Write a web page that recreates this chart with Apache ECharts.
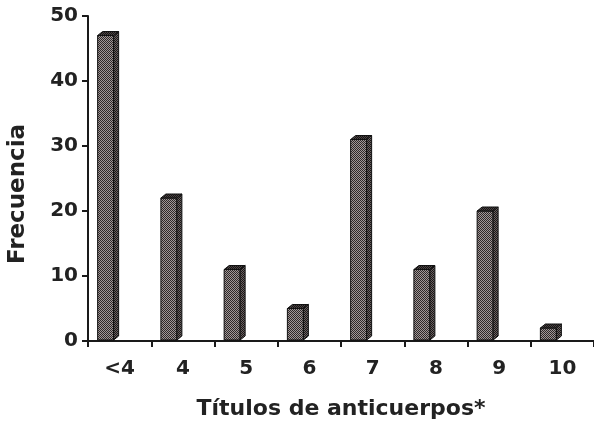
<!DOCTYPE html>
<html>
<head>
<meta charset="utf-8">
<script src="https://cdn.jsdelivr.net/npm/echarts@6/dist/echarts.min.js"></script>
<style>
html,body{margin:0;padding:0;background:#fff;}
#chart{width:594px;height:427px;}
</style>
</head>
<body>
<div id="chart"></div>
<script>
const categories = ['<4', '4', '5', '6', '7', '8', '9', '10'];
const frecuencia = [47, 22, 11, 5, 31, 11, 20, 2];
const yTicks = [0, 10, 20, 30, 40, 50];

function makePattern(dark, light) {
  const c = document.createElement('canvas');
  c.width = 2; c.height = 2;
  const g = c.getContext('2d');
  g.fillStyle = light; g.fillRect(0, 0, 2, 2);
  g.fillStyle = dark; g.fillRect(0, 0, 1, 1); g.fillRect(1, 1, 1, 1);
  return c;
}
const frontPat = { image: makePattern('#2e2828', '#a09898'), repeat: 'repeat' };
const sidePat = { image: makePattern('#1a1616', '#6a6262'), repeat: 'repeat' };
const topPat = { image: makePattern('#161212', '#4a4444'), repeat: 'repeat' };

const chart = echarts.init(document.getElementById('chart'), null, { renderer: 'canvas' });
const FONT = '"DejaVu Sans", sans-serif';

chart.setOption({
  backgroundColor: '#ffffff',
  animation: false,
  grid: { left: 88, right: 0, top: 16, bottom: 86, containLabel: false },
  xAxis: {
    type: 'category',
    data: categories,
    boundaryGap: true,
    name: 'Títulos de anticuerpos*',
    nameLocation: 'middle',
    nameGap: 57,
    nameTextStyle: { fontFamily: FONT, fontWeight: 'bold', fontSize: 22, color: '#222' },
    axisLine: { show: true, lineStyle: { color: '#1a1a1a', width: 2 } },
    axisTick: { show: true, length: 6, alignWithLabel: false, lineStyle: { color: '#1a1a1a', width: 2 } },
    axisLabel: { fontFamily: FONT, fontWeight: 'bold', fontSize: 20, color: '#222', margin: 18 },
    splitLine: { show: false }
  },
  yAxis: {
    type: 'value',
    min: yTicks[0],
    max: yTicks[yTicks.length - 1],
    interval: 10,
    axisLine: { show: true, lineStyle: { color: '#1a1a1a', width: 2 } },
    axisTick: { show: true, length: 6, lineStyle: { color: '#1a1a1a', width: 2 } },
    axisLabel: { fontFamily: FONT, fontWeight: 'bold', fontSize: 20, color: '#222', margin: 10 },
    splitLine: { show: false }
  },
  graphic: [{
    type: 'text',
    x: 18, y: 194,
    rotation: Math.PI / 2,
    style: {
      text: 'Frecuencia',
      fontFamily: FONT, fontWeight: 'bold', fontSize: 23, fill: '#222',
      align: 'center', verticalAlign: 'middle'
    }
  }],
  series: [{
    type: 'custom',
    data: frecuencia.map((v, i) => [i, v]),
    encode: { x: 0, y: 1 },
    renderItem: function (params, api) {
      const base = api.coord([api.value(0), 0]);
      const top = api.coord([api.value(0), api.value(1)]);
      const left = base[0] - 22;
      const w = 16, dx = 5, dy = 4;
      const yb = base[1] - 1, yt = top[1];
      const stroke = { stroke: '#111', lineWidth: 1 };
      return {
        type: 'group',
        children: [
          { type: 'rect', shape: { x: left, y: yt, width: w, height: yb - yt },
            style: Object.assign({ fill: frontPat }, stroke) },
          { type: 'polygon', shape: { points: [[left + w, yt], [left + w + dx, yt - dy], [left + w + dx, yb - dy], [left + w, yb]] },
            style: Object.assign({ fill: sidePat }, stroke) },
          { type: 'polygon', shape: { points: [[left, yt], [left + dx, yt - dy], [left + w + dx, yt - dy], [left + w, yt]] },
            style: Object.assign({ fill: topPat }, stroke) }
        ]
      };
    }
  }]
});
</script>
</body>
</html>
